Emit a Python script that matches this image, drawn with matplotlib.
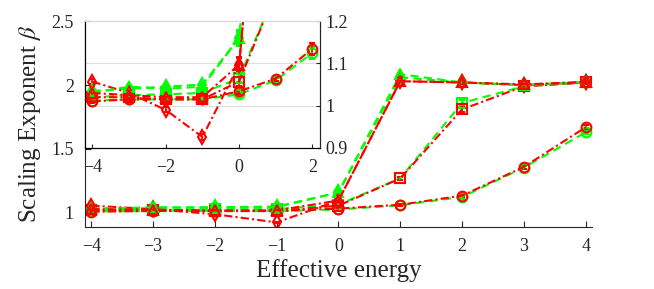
import numpy as np
import matplotlib
matplotlib.use('Agg')
import matplotlib.pyplot as plt

## data (energy on x, scaling exponent on y)
energy = [-4, -3, -2, -1, 0, 1, 2, 3, 4]

green_o = [1.012, 1.015, 1.015, 1.015, 1.027, 1.060, 1.125, 1.355, 1.630]
red_o = [1.010, 1.015, 1.015, 1.015, 1.034, 1.064, 1.135, 1.360, 1.670]
err_o = [0.004, 0.004, 0.004, 0.004, 0.006, 0.006, 0.014, 0.015, 0.015]

green_s = [1.020, 1.025, 1.027, 1.030, 1.065, 1.270, 1.860, 1.990, 2.020]
red_s = [1.020, 1.020, 1.015, 1.015, 1.057, 1.270, 1.810, 1.990, 2.020]
err_s = [0.004, 0.004, 0.004, 0.004, 0.010, 0.012, 0.020, 0.012, 0.010]

green_d = [1.035, 1.040, 1.045, 1.050, 1.160, 2.060, 2.020, 2.000, 2.020]
red_d = [1.057, 1.030, 0.990, 0.926, 1.097, 2.030, 2.020, 2.000, 2.020]
err_d = [0.006, 0.005, 0.006, 0.006, 0.018, 0.012, 0.010, 0.010, 0.010]

green_t = [1.030, 1.045, 1.040, 1.045, 1.160, 2.085, 2.020, 2.000, 2.025]
red_t = [1.030, 1.025, 1.020, 1.020, 1.097, 2.030, 2.020, 2.005, 2.025]
err_t = [0.005, 0.005, 0.005, 0.005, 0.015, 0.012, 0.010, 0.010, 0.010]

series = [(green_o, red_o, err_o, 'o'),
          (green_s, red_s, err_s, 's'),
          (green_d, red_d, err_d, 'd'),
          (green_t, red_t, err_t, '^')]

main_ticks = [1, 1.5, 2, 2.5]
inset_xticks = [-4, -2, 0, 2]
inset_rticks = [0.9, 1, 1.1, 1.2]
inset_rlabels = ['0.9', '1', '1.1', '1.2']

dark = (0.15, 0.15, 0.15)
plt.rcParams['font.family'] = 'Liberation Serif'
plt.rcParams['mathtext.fontset'] = 'stix'

fig = plt.figure(figsize=(6.54, 2.89), dpi=100)
ax = fig.add_axes([0.130, 0.2145, 0.775, 0.7125])

def draw(a, xs, n):
    for g, r, e, m in series:
        a.errorbar(xs, g[:n], yerr=e[:n], fmt=m, ls=(0, (4, 2.5)), color=(0, 1, 0), lw=1.5,
                   ms=7, mfc='none', mew=1.5, capsize=2, elinewidth=1.2)
        a.errorbar(xs, r[:n], yerr=e[:n], fmt=m, ls=(0, (4, 1.5, 1, 1.5)), color=(1, 0, 0), lw=1.5,
                   ms=7, mfc='none', mew=1.5, capsize=2, elinewidth=1.2)

draw(ax, energy, 9)
ax.set_xlim(-4.1, 4.1)
ax.set_ylim(0.89, 2.5)
ax.set_xticks(energy)
ax.set_yticks(main_ticks)
ax.set_yticklabels(['1', '1.5', '2', '2.5'])
for s in ['top', 'right']:
    ax.spines[s].set_visible(False)
for s in ['left', 'bottom']:
    ax.spines[s].set_color(dark)
ax.tick_params(direction='in', colors=dark, labelsize=13, length=4, pad=8)
ax.set_xlabel('Effective energy', fontsize=18, color=dark, labelpad=3)
ax.set_ylabel(r'Scaling Exponent $\beta$', fontsize=18, color=dark, labelpad=6)

## inset: zoom of the low energies on a twin axis
axi = fig.add_axes([0.130, 0.488, 0.359, 0.439])
axi.set_facecolor('white')
axi.set_xlim(-4.2, 2.2)
axi.set_ylim(1.5, 2.5)
axi.set_xticks(inset_xticks)
axi.set_yticks([1.5, 2, 2.5])
axi.set_yticklabels([])
axi.tick_params(direction='in', colors=dark, labelsize=13, length=3, pad=8)
axi.spines['top'].set_color((0.85, 0.85, 0.85))
for s in ['left', 'bottom', 'right']:
    axi.spines[s].set_color(dark)

axr = axi.twinx()
draw(axr, energy[:7], 7)
axr.set_ylim(0.9, 1.2)
axr.set_yticks(inset_rticks)
axr.set_yticklabels(inset_rlabels)
axr.tick_params(direction='in', colors=dark, labelsize=13, length=3, pad=4)
axr.grid(axis='y', color=(0.87, 0.87, 0.87), lw=0.8)
axr.spines['right'].set_color(dark)
axr.spines['top'].set_color((0.85, 0.85, 0.85))

fig.savefig('out.png', dpi=100)
